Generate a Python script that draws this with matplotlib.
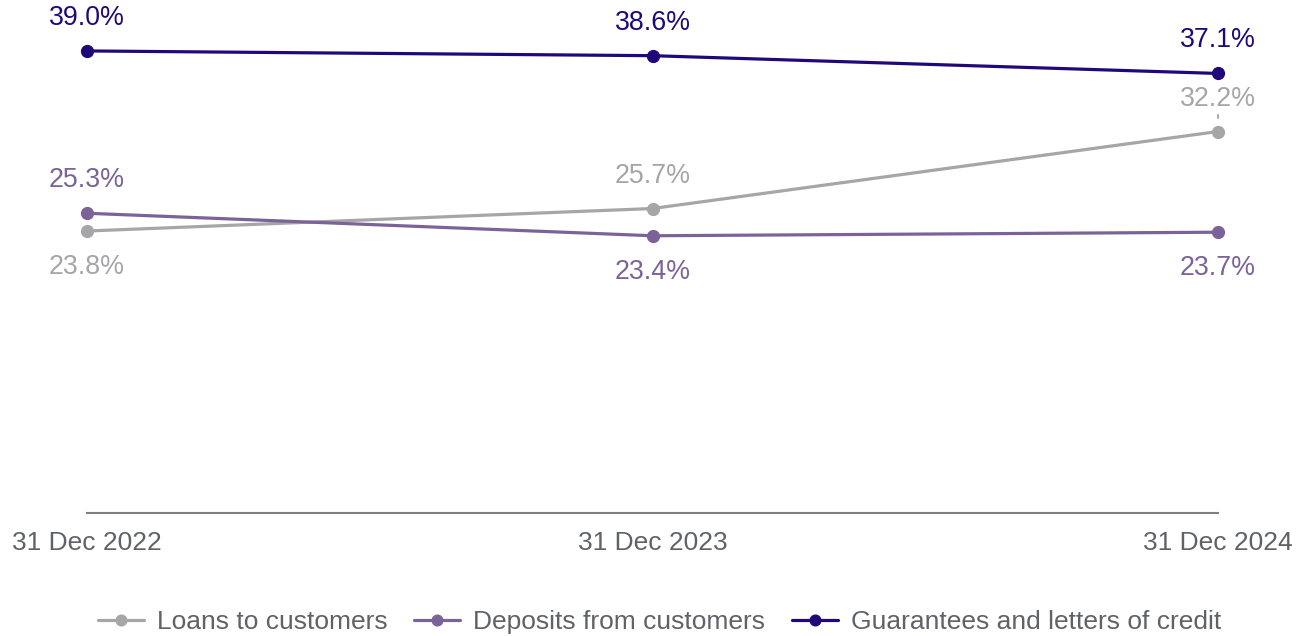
import matplotlib
matplotlib.use("Agg")
import matplotlib.pyplot as plt

plt.rcParams['font.family'] = ['Liberation Sans', 'DejaVu Sans']

dates = ["31 Dec 2022", "31 Dec 2023", "31 Dec 2024"]
loans = [23.8, 25.7, 32.2]
deposits = [25.3, 23.4, 23.7]
guarantees = [39.0, 38.6, 37.1]

series = [
    ("Loans to customers", loans, "#a6a6a9"),
    ("Deposits from customers", deposits, "#7b6399"),
    ("Guarantees and letters of credit", guarantees, "#20087a"),
]
# label position: +1 above point, -1 below
label_side = {
    "Loans to customers": [-1, 1, 1],
    "Deposits from customers": [1, -1, -1],
    "Guarantees and letters of credit": [1, 1, 1],
}

fig = plt.figure(figsize=(12.99, 6.36), dpi=100)
ax = fig.add_axes([87 / 1299, (636 - 513) / 636, (1218 - 87) / 1299, 513 / 636])
x = list(range(len(dates)))

for name, vals, col in series:
    ax.plot(x, vals, color=col, lw=2.3, marker='o', markersize=8.5,
            label=name, clip_on=False, solid_capstyle='round')
    for i, v in enumerate(vals):
        side = label_side[name][i]
        off = 33 if side > 0 else -36
        ax.annotate(f"{v:.1f}%", (i, v), xytext=(0, off), textcoords='offset pixels',
                    ha='center', va='center', fontsize=19.3, color=col)

# small leader tick under the 32.2% label
ax.annotate('', xy=(2, 32.2), xytext=(0, 17), textcoords='offset pixels',
            arrowprops=dict(arrowstyle='-', color='#666666', lw=0.8,
                            shrinkA=0, shrinkB=9.5))

ax.set_xlim(0, 2)
ax.set_ylim(0, 43.3)
ax.set_xticks(x)
ax.set_xticklabels(dates, fontsize=19, color='#5f6368')
ax.tick_params(axis='x', length=0, pad=13)
ax.set_yticks([])
for s in ['top', 'right', 'left']:
    ax.spines[s].set_visible(False)
ax.spines['bottom'].set_color('#7f7f7f')
ax.spines['bottom'].set_linewidth(1.5)

leg = fig.legend(loc='center', bbox_to_anchor=(0.5 + 10 / 1299, 1 - 622 / 636), ncol=3,
                 frameon=False, fontsize=19, handlelength=1.75, handletextpad=0.5,
                 columnspacing=1.0, markerscale=0.9)
for t in leg.get_texts():
    t.set_color('#5f6368')

fig.savefig("out.png", dpi=100)
